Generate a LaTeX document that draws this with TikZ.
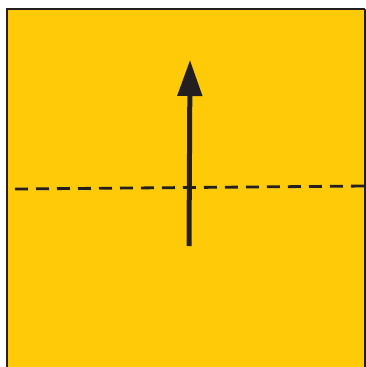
\documentclass[tikz,border=0pt]{standalone}
\usepackage{tikz}
\usetikzlibrary{arrows.meta}

\definecolor{sheetyellow}{RGB}{255,202,8}
\definecolor{inkdark}{RGB}{35,31,32}

\begin{document}
\begin{tikzpicture}[
    x=1pt, y=-1pt,
    sheet/.style={fill=sheetyellow, draw=none},
    edge/.style={draw=inkdark, line width=2.6pt},
    fold/.style={draw=inkdark, line width=2.8pt, dash pattern=on 13pt off 8pt},
    arr/.style={draw=inkdark, line width=5pt, -{Triangle[length=36pt, width=24pt]}}
  ]
    \useasboundingbox (0,0) rectangle (366,367);
    \fill[sheet] (7,9) rectangle (366,367);
    \draw[edge] (7,367) -- (7,9) -- (365,9);
    \draw[draw=inkdark, line width=1.6pt] (365.2,9) -- (365.2,367);

    \coordinate (foldL) at (15,189);
    \coordinate (foldR) at (366,186);
    \draw[fold] (foldL) -- (foldR);

    \coordinate (tail) at (189,246);
    \coordinate (tip) at (190,60);
    \draw[arr] (tail) -- (tip);
  \end{tikzpicture}
\end{document}
